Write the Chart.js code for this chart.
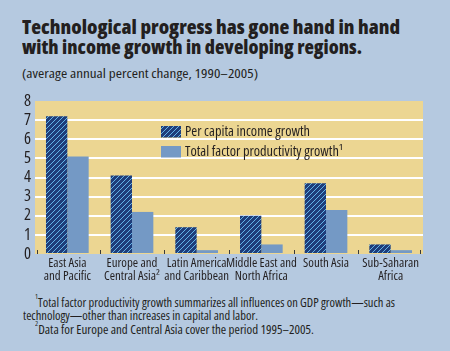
<!DOCTYPE html>
<html>
<head>
<meta charset="utf-8">
<script src="https://cdn.jsdelivr.net/npm/chart.js@4"></script>
<style>
  html, body { margin: 0; padding: 0; }
  body { width: 450px; height: 351px; background: #b5c9e0; position: relative; overflow: hidden;
         font-family: "Open Sans", sans-serif; font-stretch: condensed; color: #231f20; }
  .ln { position: absolute; white-space: nowrap; transform-origin: 0 0; line-height: normal; }
  .t { font-size: 18.5px; font-weight: 800; }
  .s { font-size: 13px; }
  .f { font-size: 12.3px; }
  sup { font-size: 7px; vertical-align: top; line-height: 0; position: relative; top: 3px; }
  #chartBox { position: absolute; left: 0; top: 90px; width: 450px; height: 200px; }
</style>
</head>
<body>
<div class="ln t" data-w="378" style="left:22px; top:13.5px">Technological progress has gone hand in hand</div>
<div class="ln t" data-w="340" style="left:22px; top:33.5px">with income growth in developing regions.</div>
<div class="ln s" data-w="236" style="left:22px; top:63.6px">(average annual percent change, 1990–2005)</div>
<div id="chartBox"><canvas id="c"></canvas></div>
<div class="ln f" data-w="360" style="left:35px; top:293.5px"><sup>1</sup>Total factor productivity growth summarizes all influences on GDP growth—such as</div>
<div class="ln f" data-w="235" style="left:23px; top:306.8px">technology—other than increases in capital and labor.</div>
<div class="ln f" data-w="279" style="left:35px; top:321px"><sup>2</sup>Data for Europe and Central Asia cover the period 1995–2005.</div>
<script>
document.querySelectorAll('.ln').forEach(el => {
  const w = el.getBoundingClientRect().width;
  const target = +el.dataset.w;
  el.style.transform = 'scaleX(' + (target / w) + ')';
});

const categories = [
  ["East Asia", "and Pacific"],
  ["Europe and", "Central Asia²"],
  ["Latin America", "and Caribbean"],
  ["Middle East and", "North Africa"],
  ["South Asia"],
  ["Sub-Saharan", "Africa"]
];
const perCapitaIncomeGrowth = [7.2, 4.1, 1.4, 2.0, 3.7, 0.5];
const tfpGrowth = [5.1, 2.2, 0.2, 0.5, 2.3, 0.2];
const yTicks = [0, 1, 2, 3, 4, 5, 6, 7, 8];
const seriesNames = ["Per capita income growth", "Total factor productivity growth¹"];

const FONT = '"Open Sans", sans-serif';
const NAVY = '#1f3d7a', STRIPE = '#62b4e8', TFP = '#7499c5', PLOT_BG = '#ecd692', INK = '#231f20';

function makeHatch() {
  const s = 5;
  const c = document.createElement('canvas');
  c.width = s; c.height = s;
  const g = c.getContext('2d');
  g.fillStyle = NAVY; g.fillRect(0, 0, s, s);
  g.strokeStyle = STRIPE; g.lineWidth = 1.0;
  g.beginPath();
  for (let k = -1; k <= 1; k++) { g.moveTo(k * s, s); g.lineTo(k * s + s, 0); }
  g.stroke();
  return g.createPattern(c, 'repeat');
}
const hatch = makeHatch();

const bgPlugin = {
  id: 'plotBg',
  beforeDraw(chart) {
    const { ctx, chartArea: a } = chart;
    ctx.save(); ctx.fillStyle = PLOT_BG;
    ctx.fillRect(a.left, a.top, a.right - a.left, a.bottom - a.top);
    ctx.restore();
  },
  afterDatasetsDraw(chart) {
    const { ctx, chartArea: a } = chart;
    const xs = chart.scales.x;
    const n = categories.length;
    const step = xs.getPixelForValue(1) - xs.getPixelForValue(0);
    ctx.save(); ctx.strokeStyle = '#3a3a3a'; ctx.lineWidth = 1;
    for (let i = 0; i <= n; i++) {
      let x = xs.getPixelForValue(i) - step / 2;
      if (i === 0) x += 2; if (i === n) x -= 3;
      x = Math.round(x) + 0.5;
      ctx.beginPath(); ctx.moveTo(x, a.bottom); ctx.lineTo(x, a.bottom - 4); ctx.stroke();
    }
    ctx.restore();
  },
  afterDraw(chart) {
    const { ctx, chartArea: a } = chart;
    const bx = a.left + 126, by = a.top + 25;
    ctx.save();
    ctx.font = 'condensed 14.3px ' + FONT;
    ctx.textBaseline = 'middle';
    const fills = [hatch, TFP];
    for (let i = 0; i < 2; i++) {
      const y = by + i * 20;
      ctx.fillStyle = fills[i];
      ctx.fillRect(bx, y, 20, 11.5);
      ctx.fillStyle = INK;
      ctx.fillText(seriesNames[i], bx + 24, y + 6);
    }
    ctx.restore();
  }
};

new Chart(document.getElementById('c'), {
  type: 'bar',
  data: {
    labels: categories,
    datasets: [
      { label: seriesNames[0], data: perCapitaIncomeGrowth, backgroundColor: hatch, borderWidth: 0,
        categoryPercentage: 0.66, barPercentage: 1.0 },
      { label: seriesNames[1], data: tfpGrowth, backgroundColor: TFP, borderWidth: 0,
        categoryPercentage: 0.66, barPercentage: 1.0 }
    ]
  },
  options: {
    responsive: true, maintainAspectRatio: false, animation: false,
    layout: { padding: { left: 0, right: 27, top: 7, bottom: 0 } },
    plugins: { legend: { display: false }, tooltip: { enabled: false } },
    scales: {
      x: {
        grid: { display: false, drawTicks: false },
        border: { display: false },
        ticks: { color: INK, font: { family: FONT, weight: 'condensed', size: 12.8, lineHeight: 1.0 }, padding: 3, maxRotation: 0, autoSkip: false },
        afterFit(s) { s.height = 36; }
      },
      y: {
        min: 0, max: 8,
        afterBuildTicks(s) { s.ticks = yTicks.map(v => ({ value: v })); },
        grid: { color: c => (c.tick && (c.tick.value === 0 || c.tick.value === 8)) ? 'rgba(0,0,0,0)' : '#ffffff', lineWidth: 2, drawTicks: false },
        border: { display: false },
        ticks: { color: INK, autoSkip: false, font: { family: FONT, weight: 'condensed', size: 16.5, lineHeight: 0.85 }, padding: 4 },
        afterFit(s) { s.width = 35; }
      }
    }
  },
  plugins: [bgPlugin]
});
</script>
</body>
</html>
